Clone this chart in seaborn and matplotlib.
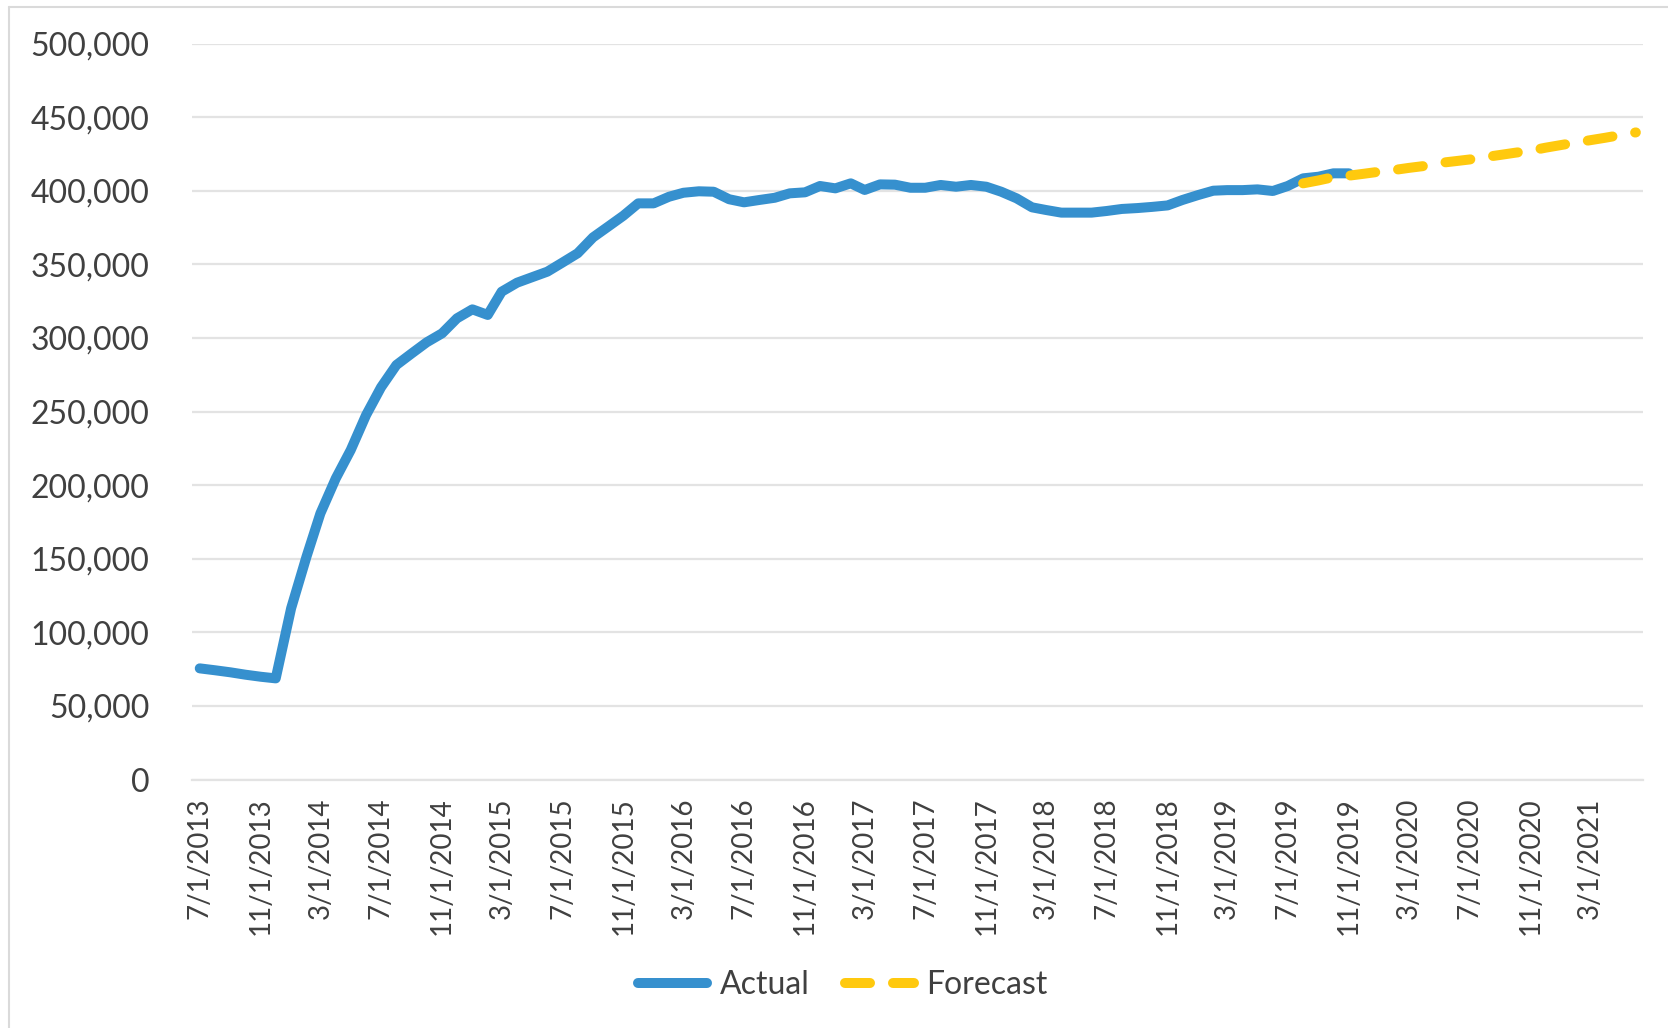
import matplotlib
matplotlib.use("Agg")
import matplotlib.pyplot as plt
from matplotlib.lines import Line2D
from matplotlib.ticker import FuncFormatter
import seaborn as sns
import pandas as pd
import numpy as np

# ---------------- data ----------------
actual_start = "2013-07-01"
actual_values = [
    75.5, 74.2, 72.8, 71.2, 69.8, 68.7, 116.3, 151.4, 180.8, 204.6,
    223.8, 247.6, 266.4, 281.6, 289.5, 297.0, 303.1, 313.3, 319.4, 315.6,
    331.4, 337.5, 341.2, 345.0, 351.1, 357.5, 368.3, 375.5, 383.0, 391.4,
    391.4, 395.9, 398.6, 399.6, 399.3, 394.2, 392.1, 393.7, 395.2, 398.2,
    398.9, 403.2, 401.6, 405.0, 400.5, 404.3, 404.1, 402.0, 402.0, 403.9,
    402.7, 403.9, 402.7, 399.3, 394.8, 388.7, 386.9, 385.1, 385.1, 385.1,
    386.2, 387.6, 388.2, 389.0, 390.0, 393.7, 397.0, 400.0, 400.4, 400.4,
    400.9, 399.8, 403.2, 408.4, 409.5, 411.8, 411.8,
]  # thousands
forecast_start = "2019-08-01"
forecast_values = [
    405.0, 407.0, 409.2, 410.2, 411.5, 412.9, 414.1, 415.5, 416.8, 418.8,
    420.0, 421.2, 422.8, 424.3, 425.8, 427.2, 429.2, 431.0, 432.8, 434.3,
    436.0, 437.8, 439.6,
]  # thousands
tick_start = "2013-07-01"
tick_end = "2021-07-01"
y_ticks = [0, 50000, 100000, 150000, 200000, 250000, 300000, 350000, 400000, 450000, 500000]
series_names = ["Actual", "Forecast"]

BLUE = "#3690CE"
YELLOW = "#FFC90E"
TEXT = "#404040"
GRID = "#E3E3E3"

half_month = pd.Timedelta(days=15)
act_dates = pd.date_range(actual_start, periods=len(actual_values), freq="MS")
fc_dates = pd.date_range(forecast_start, periods=len(forecast_values), freq="MS")

df = pd.concat([
    pd.DataFrame({"date": act_dates + half_month,
                  "value": np.array(actual_values) * 1000,
                  "series": series_names[0]}),
    pd.DataFrame({"date": fc_dates + half_month,
                  "value": np.array(forecast_values) * 1000,
                  "series": series_names[1]}),
])

sns.set_theme(style="white")
plt.rcParams["font.family"] = ["Lato", "DejaVu Sans"]

fig = plt.figure(figsize=(16.68, 10.28), dpi=100)
ax = fig.add_axes([192.3 / 1668, 1 - 779.5 / 1028,
                   (1643.3 - 192.3) / 1668, (779.5 - 43.5) / 1028])

LW = 7.2
DASH = (2.5, 2.3)
sns.lineplot(data=df[df.series == "Actual"], x="date", y="value", ax=ax,
             color=BLUE, lw=LW, solid_capstyle="round", solid_joinstyle="round",
             legend=False, zorder=3)
sns.lineplot(data=df[df.series == "Forecast"], x="date", y="value", ax=ax,
             color=YELLOW, lw=LW, legend=False, zorder=4)
fl = ax.get_lines()[-1]
fl.set_dashes(DASH)
fl.set_dash_capstyle("round")

# axes limits
ax.set_xlim(pd.Timestamp(tick_start), pd.Timestamp(tick_end))
ax.set_ylim(0, 500000)

# y axis
ax.set_yticks(y_ticks)
ax.yaxis.set_major_formatter(FuncFormatter(lambda v, p: f"{int(v):,}"))
ax.tick_params(axis="y", length=0, labelsize=23, labelcolor=TEXT, pad=31)
ax.grid(axis="y", color=GRID, lw=1.6)
ax.set_axisbelow(True)

# x axis: tick marks at month starts, labels centred in the month
tick_dates = pd.date_range(tick_start, tick_end, freq="4MS")
ax.set_xticks(tick_dates)
ax.set_xticklabels([])
ax.tick_params(axis="x", which="major", length=10, width=1.6, color=GRID, direction="out")
label_starts = tick_dates[:-1]
ax.set_xticks(label_starts + half_month, minor=True)
ax.set_xticklabels([f"{d.month}/{d.day}/{d.year}" for d in label_starts],
                   minor=True, rotation=90)
ax.tick_params(axis="x", which="minor", length=0, labelsize=20, labelcolor=TEXT, pad=13)
ax.set_xlabel("")
ax.set_ylabel("")

for s in ["top", "right", "left"]:
    ax.spines[s].set_visible(False)
ax.spines["bottom"].set_color(GRID)
ax.spines["bottom"].set_linewidth(1.6)

# legend
handles = [
    Line2D([], [], color=BLUE, lw=LW, solid_capstyle="round"),
    Line2D([], [], color=YELLOW, lw=LW, dashes=DASH, dash_capstyle="round"),
]
leg = fig.legend(handles, series_names, loc="center", bbox_to_anchor=(0.5054, 0.042),
                 ncol=2, frameon=False, fontsize=23, handlelength=2.15,
                 handletextpad=0.4, columnspacing=1.1)
for t in leg.get_texts():
    t.set_color(TEXT)

# chart border (top & left)
fig.add_artist(Line2D([9 / 1668, 9 / 1668], [0, 1 - 7 / 1028], color="#DADADA", lw=1.5))
fig.add_artist(Line2D([9 / 1668, 1], [1 - 7 / 1028, 1 - 7 / 1028], color="#DADADA", lw=1.5))

fig.savefig("out.png", dpi=100, facecolor="white")
